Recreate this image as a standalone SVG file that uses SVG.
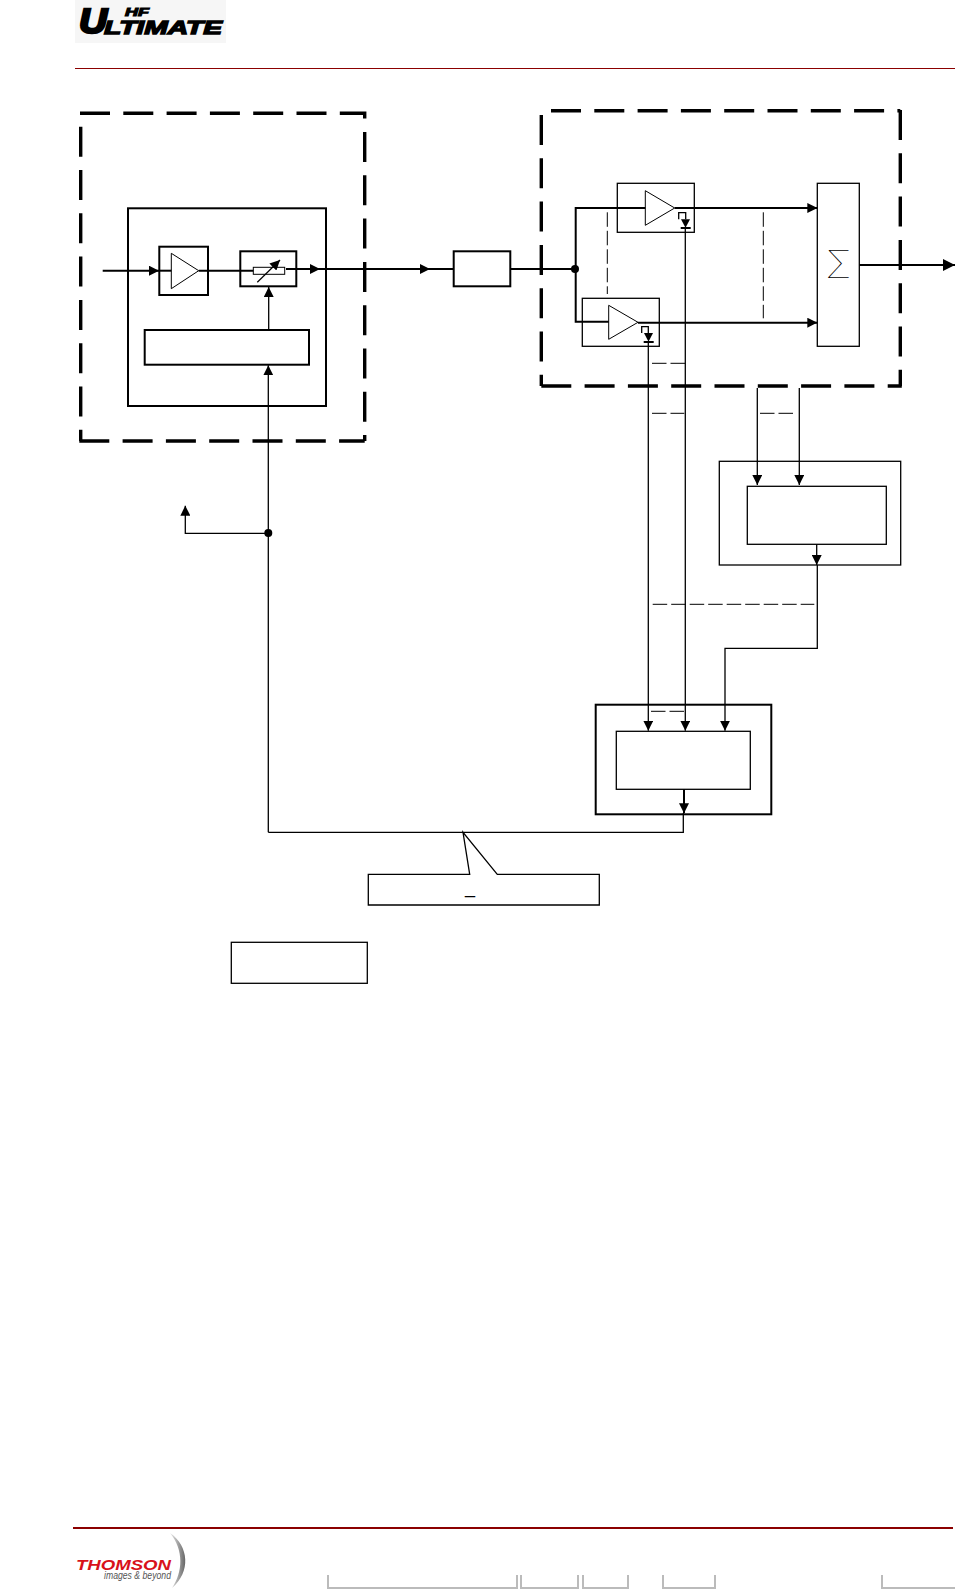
<svg xmlns="http://www.w3.org/2000/svg" width="955" height="1589" viewBox="0 0 955 1589">
<style>
.b1{fill:none;stroke:#000;stroke-width:1.3}
.b2{fill:none;stroke:#000;stroke-width:2}
.tri{fill:#fff;stroke:#000;stroke-width:1}
.dash3{fill:none;stroke:#000;stroke-width:3.4;stroke-dasharray:30 13.3}
.c1{fill:none;stroke:#000;stroke-width:1.3}
.c2{fill:none;stroke:#000;stroke-width:2}
.d1{fill:none;stroke:#000;stroke-width:1;stroke-dasharray:14.5 4}
.foot{fill:none;stroke:#bbb;stroke-width:2}
.dot{fill:#000}
.ah{fill:#000;stroke:none}
.logo{font-family:"Liberation Sans",sans-serif;font-weight:700;font-style:italic;stroke:#000}
</style>
<defs>
<marker id="arr" markerUnits="userSpaceOnUse" markerWidth="10" markerHeight="10" viewBox="0 0 10 10" refX="10" refY="5" orient="auto"><path class="ah" d="M0 0L10 5L0 10Z"/></marker>
<marker id="arrbig" markerUnits="userSpaceOnUse" markerWidth="12" markerHeight="12" viewBox="0 0 10 10" refX="10" refY="5" orient="auto"><path class="ah" d="M0 0L10 5L0 10Z"/></marker>
<linearGradient id="sw" x1="0" y1="0" x2="1" y2="0"><stop offset="0" stop-color="#e8e8e8"/><stop offset="1" stop-color="#666"/></linearGradient>
</defs>

<g id="header">
<rect x="75" y="0" width="151" height="43" fill="#f6f6f6"/>
<text class="logo" x="79" y="33" font-size="35" textLength="28" lengthAdjust="spacingAndGlyphs" stroke-width="2.4">U</text>
<text class="logo" x="125" y="15.5" font-size="11" textLength="24" lengthAdjust="spacingAndGlyphs" stroke-width="1">HF</text>
<text class="logo" x="104" y="33.5" font-size="19" textLength="118" lengthAdjust="spacingAndGlyphs" stroke-width="1.3">LTIMATE</text>
<line x1="75" y1="68.5" x2="955" y2="68.5" stroke="#8b0000" stroke-width="1"/>
</g>

<g id="tx-frame">
<path class="dash3" d="M80 113.3H364.7V119"/>
<path class="dash3" d="M80.7 126.7V441"/>
<path class="dash3" d="M364.7 132V441"/>
<path class="dash3" d="M79.3 441H364.7"/>
</g>
<g id="tx-module"><rect class="b2" x="128" y="208.3" width="198" height="197.7"/></g>
<g id="tx-amp"><rect class="b2" x="159.3" y="246.7" width="48.7" height="48.3"/><polygon class="tri" points="171.3,253.3 171.3,288.7 198.7,270.7"/></g>
<g id="tx-attenuator">
<rect class="b2" x="240.3" y="251.3" width="56" height="35"/>
<rect x="253.3" y="267.3" width="31.4" height="7" fill="#fff" stroke="#000" stroke-width="1"/>
<line x1="257.3" y1="282.3" x2="280" y2="260" stroke="#000" stroke-width="1.2" marker-end="url(#arr)"/>
</g>
<g id="tx-control"><rect class="b2" x="144.7" y="330" width="164.3" height="34.7"/></g>
<g id="filter"><rect class="b2" x="453.7" y="251.3" width="56.6" height="35"/></g>

<g id="pa-frame">
<path class="dash3" d="M551 110.7H900.3"/>
<path class="dash3" d="M541.3 115V386"/>
<path class="dash3" d="M900.3 110V386"/>
<path class="dash3" d="M541.3 386H901.8"/>
</g>
<g id="pa-top"><rect class="b1" x="617.3" y="183.3" width="77" height="49"/><polygon class="tri" points="645.3,190.7 645.3,225.3 674.7,208"/>
<path class="c1" d="M678.7 219.3V212.7H685.7V219.3"/><polygon class="ah" points="681,219.3 690,219.3 685.5,227.7"/><line x1="680.7" y1="228" x2="690.7" y2="228" stroke="#000" stroke-width="2"/></g>
<g id="pa-bottom"><rect class="b1" x="582.3" y="298.3" width="77" height="48"/><polygon class="tri" points="608.7,305.3 608.7,339.3 638,322.3"/>
<path class="c1" d="M641.7 333V326.7H648.3V333"/><polygon class="ah" points="644,333 653,333 648.5,341.7"/><line x1="643.7" y1="342" x2="653.7" y2="342" stroke="#000" stroke-width="2"/></g>
<g id="combiner"><rect class="b1" x="817.3" y="183.3" width="42" height="163"/>
<text x="838.5" y="278" text-anchor="middle" font-family="Inter, Liberation Sans, sans-serif" font-weight="100" font-size="38">Σ</text></g>

<g id="detector"><rect class="b1" x="719.3" y="461.3" width="181.4" height="103.7"/><rect class="b1" x="747.3" y="486.3" width="139" height="58"/></g>
<g id="controller"><rect class="b2" x="595.7" y="704.7" width="175.6" height="109.6"/><rect class="b1" x="616.3" y="731.3" width="134" height="58"/></g>

<g id="callout"><path class="b1" fill="#fff" d="M368.3 874.3H469.7L463 832.3L497.3 874.3H599.3V905H368.3Z"/>
<text x="465" y="893" font-family="Liberation Sans, sans-serif" font-size="18">_</text></g>
<g id="legend"><rect class="b1" x="231.3" y="942.3" width="136" height="41"/></g>

<g id="connectors">
<line class="c2" x1="102.7" y1="270.7" x2="159" y2="270.7" marker-end="url(#arr)"/>
<line class="c2" x1="159" y1="270.7" x2="171.3" y2="270.7"/>
<line class="c2" x1="198.7" y1="270.7" x2="253.3" y2="270.7"/>
<line class="c2" x1="286" y1="269" x2="320" y2="269" marker-end="url(#arr)"/>
<line class="c2" x1="320" y1="269" x2="430" y2="269" marker-end="url(#arr)"/>
<line class="c2" x1="430" y1="269" x2="453.7" y2="269"/>
<line class="c2" x1="510.3" y1="269" x2="575.5" y2="269"/>
<circle class="dot" cx="575" cy="269" r="4"/>
<path class="c2" d="M645.3 208H575.7V321.7H608.7"/>
<line class="c2" x1="674.7" y1="208" x2="817.3" y2="208" marker-end="url(#arr)"/>
<line class="c2" x1="638" y1="322.7" x2="817.3" y2="322.7" marker-end="url(#arr)"/>
<line class="c2" x1="859.3" y1="265" x2="955" y2="265" marker-end="url(#arrbig)"/>
<line class="c1" x1="268.7" y1="330" x2="268.7" y2="287" marker-end="url(#arr)"/>
<line class="c1" x1="268.3" y1="832.3" x2="268.3" y2="365.3" marker-end="url(#arr)"/>
<path class="c1" d="M268.3 533.3H185.3V505.7" marker-end="url(#arr)"/>
<circle class="dot" cx="268.3" cy="533" r="4"/>
<path class="c1" d="M268.3 832.3H683.3V813"/>
<line class="c2" x1="684" y1="789.3" x2="684" y2="813.3" marker-end="url(#arr)"/>
<line class="c1" x1="685.3" y1="228" x2="685.3" y2="730.7" marker-end="url(#arr)"/>
<line class="c1" x1="648.3" y1="342" x2="648.3" y2="730.7" marker-end="url(#arr)"/>
<line class="c1" x1="757.3" y1="388" x2="757.3" y2="485" marker-end="url(#arr)"/>
<line class="c1" x1="799.3" y1="388" x2="799.3" y2="485" marker-end="url(#arr)"/>
<line class="c1" x1="816.7" y1="544.3" x2="816.7" y2="565" marker-end="url(#arr)"/>
<path class="c1" d="M817.3 565V648.3H725V730.7" marker-end="url(#arr)"/>
<line class="d1" x1="607.3" y1="212.3" x2="607.3" y2="294"/>
<line class="d1" x1="763.3" y1="212.3" x2="763.3" y2="318.3"/>
<line class="d1" x1="652" y1="363.3" x2="685" y2="363.3"/>
<line class="d1" x1="652" y1="413.3" x2="684.3" y2="413.3"/>
<line class="d1" x1="760" y1="413.3" x2="796.7" y2="413.3"/>
<line class="d1" x1="652.7" y1="604.3" x2="814.3" y2="604.3"/>
<line class="d1" x1="651" y1="711.3" x2="684" y2="711.3"/>
</g>

<g id="footer">
<line x1="73" y1="1528" x2="953" y2="1528" stroke="#8b0000" stroke-width="2"/>
<path fill="url(#sw)" d="M170 1533C189 1546 191 1572 172 1588C183 1572 184 1550 170 1533Z"/>
<text x="76" y="1569.5" font-family="Liberation Sans, sans-serif" font-weight="700" font-style="italic" font-size="15.5" fill="#d8111a" textLength="95" lengthAdjust="spacingAndGlyphs">THOMSON</text>
<text x="104" y="1579" font-family="Liberation Sans, sans-serif" font-style="italic" font-size="10" fill="#555" textLength="67" lengthAdjust="spacingAndGlyphs">images &amp; beyond</text>
<path class="foot" d="M328 1575V1588H517V1575M521 1575V1588H578V1575M583 1575V1588H628V1575M663 1575V1588H715V1575M882 1575V1588H955"/>
</g>
</svg>
